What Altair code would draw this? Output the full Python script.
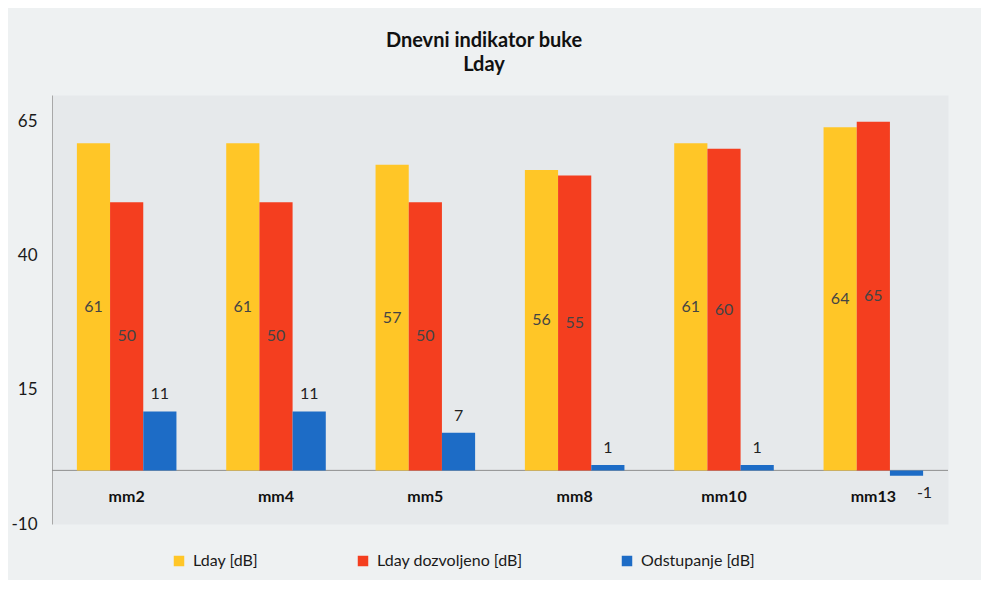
import altair as alt
import pandas as pd

categories = ["mm2", "mm4", "mm5", "mm8", "mm10", "mm13"]
series = ["Lday [dB]", "Lday dozvoljeno [dB]", "Odstupanje [dB]"]
lday = [61, 61, 57, 56, 61, 64]
lday_dozvoljeno = [50, 50, 50, 55, 60, 65]
odstupanje = [11, 11, 7, 1, 1, -1]
colors = ["#FFC627", "#F43E1F", "#1D6CC6"]
y_ticks = [65, 40, 15, -10]

rows = []
for i, c in enumerate(categories):
    for s, vals in zip(series, [lday, lday_dozvoljeno, odstupanje]):
        rows.append({"cat": c, "series": s, "value": vals[i]})
df = pd.DataFrame(rows)

FONT = "Lato"

x = alt.X("cat:N", sort=categories,
          scale=alt.Scale(domain=categories, paddingInner=1 / 3, paddingOuter=1 / 6),
          axis=None)
xo = alt.XOffset("series:N", sort=series,
                 scale=alt.Scale(domain=series, paddingInner=0, paddingOuter=0))
yscale = alt.Scale(domain=[-10, 70], nice=False, zero=False)

base = alt.Chart(df).transform_calculate(lbl="'' + datum.value")

zero_line = alt.Chart(pd.DataFrame({"z": [0]})).mark_rule(
    color="#8f8f8f", strokeWidth=1
).encode(y=alt.Y("z:Q", scale=yscale))

bars = base.mark_bar().encode(
    x=x,
    xOffset=xo,
    y=alt.Y("value:Q", scale=yscale, title=None,
            axis=alt.Axis(values=y_ticks, grid=False, ticks=False, tickSize=0,
                          domainColor="#a8a8a8", labelFont=FONT, labelFontSize=17,
                          labelColor="#1a1a1a", labelPadding=15,
                          labelExpr="'' + datum.value")),
    y2=alt.datum(0),
    color=alt.Color("series:N", sort=series,
                    scale=alt.Scale(domain=series, range=colors),
                    legend=alt.Legend(title=None, orient="none", direction="horizontal",
                                      legendX=119, legendY=458,
                                      symbolType="square", symbolSize=110,
                                      symbolStrokeWidth=0, labelFont=FONT,
                                      labelFontSize=16, labelColor="#1a1a1a",
                                      columnPadding=96, labelOffset=6)),
)

inner_labels = base.transform_filter(
    alt.datum.series != "Odstupanje [dB]"
).transform_calculate(mid="datum.value / 2").mark_text(
    font=FONT, fontSize=16, color="#444444", baseline="middle"
).encode(x=x, xOffset=xo, y=alt.Y("mid:Q", scale=yscale), text="lbl:N")

pos_labels = base.transform_filter(
    (alt.datum.series == "Odstupanje [dB]") & (alt.datum.value >= 0)
).mark_text(
    font=FONT, fontSize=16, color="#222222", baseline="alphabetic", dy=-12
).encode(x=x, xOffset=xo, y=alt.Y("value:Q", scale=yscale), text="lbl:N")

neg_labels = base.transform_filter(
    (alt.datum.series == "Odstupanje [dB]") & (alt.datum.value < 0)
).mark_text(
    font=FONT, fontSize=16, color="#222222", baseline="alphabetic", dy=22, dx=18
).encode(x=x, xOffset=xo, y=alt.Y("value:Q", scale=yscale), text="lbl:N")

cat_labels = alt.Chart(pd.DataFrame({"cat": categories, "z": [0] * len(categories)})).mark_text(
    font=FONT, fontSize=16, fontWeight="bold", color="#111111", baseline="middle", dy=27
).encode(x=x, y=alt.Y("z:Q", scale=yscale), text="cat:N")

chart = alt.layer(zero_line, bars, inner_labels, pos_labels, neg_labels, cat_labels).properties(
    width=896,
    height=429,
    autosize=alt.AutoSizeParams(type="none"),
    padding={"left": 44, "top": 87, "right": 33, "bottom": 56},
    background="#eef1f2",
    title=alt.TitleParams(
        text=["Dnevni indikator buke", "Lday"],
        font=FONT, fontSize=20, fontWeight="bold", color="#111111",
        lineHeight=24, anchor="middle", dx=-16, offset=20,
    ),
).configure_view(fill="#e6e9eb", stroke="transparent")

chart.save("out.html", embed_options={"renderer": "svg", "actions": False})
